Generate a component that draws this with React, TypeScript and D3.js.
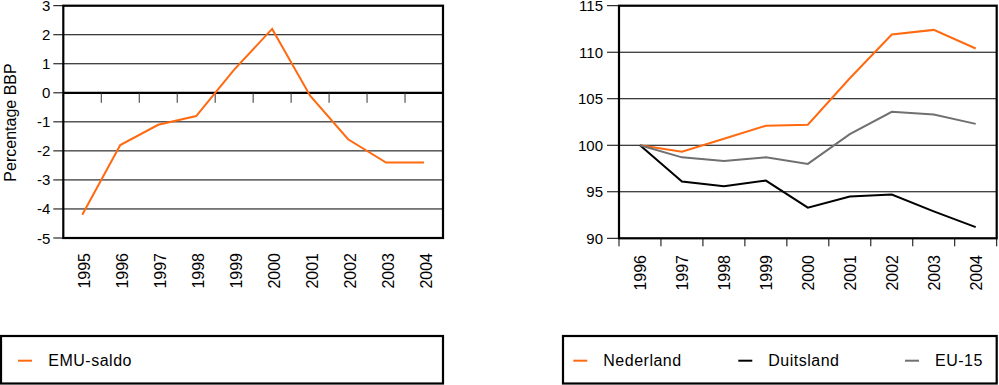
import * as d3 from 'd3';

// EMU-saldo chart
const emuYears = ['1995', '1996', '1997', '1998', '1999', '2000', '2001', '2002', '2003', '2004'];
const emuSaldo = [-4.2, -1.8, -1.1, -0.8, 0.8, 2.2, -0.1, -1.6, -2.4, -2.4];
const emuTicks = [-5, -4, -3, -2, -1, 0, 1, 2, 3];

// Index chart (1996 = 100)
const idxYears = ['1996', '1997', '1998', '1999', '2000', '2001', '2002', '2003', '2004'];
const nederland = [100, 99.3, 100.7, 102.1, 102.2, 107.2, 111.9, 112.4, 110.4];
const duitsland = [100, 96.1, 95.6, 96.2, 93.3, 94.5, 94.7, 92.9, 91.2];
const eu15 = [100, 98.7, 98.3, 98.7, 98.0, 101.2, 103.6, 103.3, 102.3];
const idxTicks = [90, 95, 100, 105, 110, 115];

const ORANGE = '#ff6a10';
const GRAY = '#707070';
const FONT = '"Liberation Sans", Arial, Helvetica, sans-serif';

export default function App() {
  // left panel
  const xL = d3.scaleBand<string>().domain(emuYears).range([63.3, 443]);
  const yL = d3.scaleLinear().domain([-5, 3]).range([238, 5.7]);
  const lineL = d3.line<number>()
    .x((_, i) => (xL(emuYears[i]) ?? 0) + xL.bandwidth() / 2)
    .y((d) => yL(d));

  // right panel
  const xR = d3.scaleBand<string>().domain(idxYears).range([619, 996.7]);
  const yR = d3.scaleLinear().domain([90, 115]).range([238.3, 5.7]);
  const lineR = d3.line<number>()
    .x((_, i) => (xR(idxYears[i]) ?? 0) + xR.bandwidth() / 2)
    .y((d) => yR(d));

  const series = [
    { name: 'Nederland', values: nederland, color: ORANGE, lx: 573.3 },
    { name: 'Duitsland', values: duitsland, color: '#000', lx: 738.3 },
    { name: 'EU-15', values: eu15, color: GRAY, lx: 905 },
  ];

  const [l0, l1] = xL.range();
  const [r0, r1] = xR.range();

  return (
    <svg
      width={999}
      height={385}
      style={{ position: 'absolute', left: 0, top: 0, background: '#fff' }}
      fontFamily={FONT}
    >
      {/* ---------- left: EMU-saldo ---------- */}
      <g>
        {emuTicks.map((t) => (
          <g key={t}>
            <line x1={l0} x2={l1} y1={yL(t)} y2={yL(t)} stroke="#000" strokeWidth={1} />
            <line x1={l0 - 10} x2={l0} y1={yL(t)} y2={yL(t)} stroke="#000" strokeWidth={1} />
            <text x={l0 - 13} y={yL(t)} textAnchor="end" dominantBaseline="central" fontSize={15}>
              {t}
            </text>
          </g>
        ))}
        <line x1={l0} x2={l1} y1={yL(0)} y2={yL(0)} stroke="#000" strokeWidth={2.2} />
        {emuYears.slice(1).map((yr) => (
          <line
            key={yr}
            x1={xL(yr)}
            x2={xL(yr)}
            y1={yL(0)}
            y2={yL(0) + 10}
            stroke="#333"
            strokeWidth={1}
          />
        ))}
        <path d={lineL(emuSaldo) ?? ''} fill="none" stroke={ORANGE} strokeWidth={2} />
        <rect x={l0} y={yL(3)} width={l1 - l0} height={yL(-5) - yL(3)} fill="none" stroke="#000" strokeWidth={2.2} />
        {emuYears.map((yr) => (
          <text
            key={yr}
            transform={`translate(${(xL(yr) ?? 0) + xL.bandwidth() / 2 + 2},253) rotate(-90)`}
            textAnchor="end"
            dominantBaseline="central"
            fontSize={16}
          >
            {yr}
          </text>
        ))}
        <text
          transform="translate(10,122.5) rotate(-90)"
          textAnchor="middle"
          dominantBaseline="central"
          fontSize={16}
        >
          Percentage BBP
        </text>
        <rect x={1} y={336} width={442} height={47.5} fill="none" stroke="#000" strokeWidth={2.2} />
        <line x1={18} x2={32} y1={360.7} y2={360.7} stroke={ORANGE} strokeWidth={2} />
        <text x={48.3} y={360.7} dominantBaseline="central" fontSize={16} letterSpacing={0.5}>
          EMU-saldo
        </text>
      </g>

      {/* ---------- right: index ---------- */}
      <g>
        {idxTicks.map((t) => (
          <g key={t}>
            <line x1={r0} x2={r1} y1={yR(t)} y2={yR(t)} stroke="#000" strokeWidth={1} />
            <line x1={r0 - 12} x2={r0} y1={yR(t)} y2={yR(t)} stroke="#000" strokeWidth={1} />
            <text x={r0 - 16} y={yR(t)} textAnchor="end" dominantBaseline="central" fontSize={15}>
              {t}
            </text>
          </g>
        ))}
        {[...idxYears.map((yr) => xR(yr) ?? 0), r1].map((x, i) => (
          <line key={i} x1={x} x2={x} y1={yR(90)} y2={yR(90) + 8} stroke="#000" strokeWidth={1} />
        ))}
        {series.map((s) => (
          <path key={s.name} d={lineR(s.values) ?? ''} fill="none" stroke={s.color} strokeWidth={2} />
        ))}
        <rect x={r0} y={yR(115)} width={r1 - r0} height={yR(90) - yR(115)} fill="none" stroke="#000" strokeWidth={2.2} />
        {idxYears.map((yr) => (
          <text
            key={yr}
            transform={`translate(${(xR(yr) ?? 0) + xR.bandwidth() / 2 + 1},255) rotate(-90)`}
            textAnchor="end"
            dominantBaseline="central"
            fontSize={16}
          >
            {yr}
          </text>
        ))}
        <rect x={563} y={336} width={433.7} height={47.5} fill="none" stroke="#000" strokeWidth={2.2} />
        {series.map((s) => (
          <g key={s.name}>
            <line x1={s.lx} x2={s.lx + 14} y1={360.7} y2={360.7} stroke={s.color} strokeWidth={2} />
            <text x={s.lx + 30} y={360.7} dominantBaseline="central" fontSize={16} letterSpacing={0.5}>
              {s.name}
            </text>
          </g>
        ))}
      </g>
    </svg>
  );
}
